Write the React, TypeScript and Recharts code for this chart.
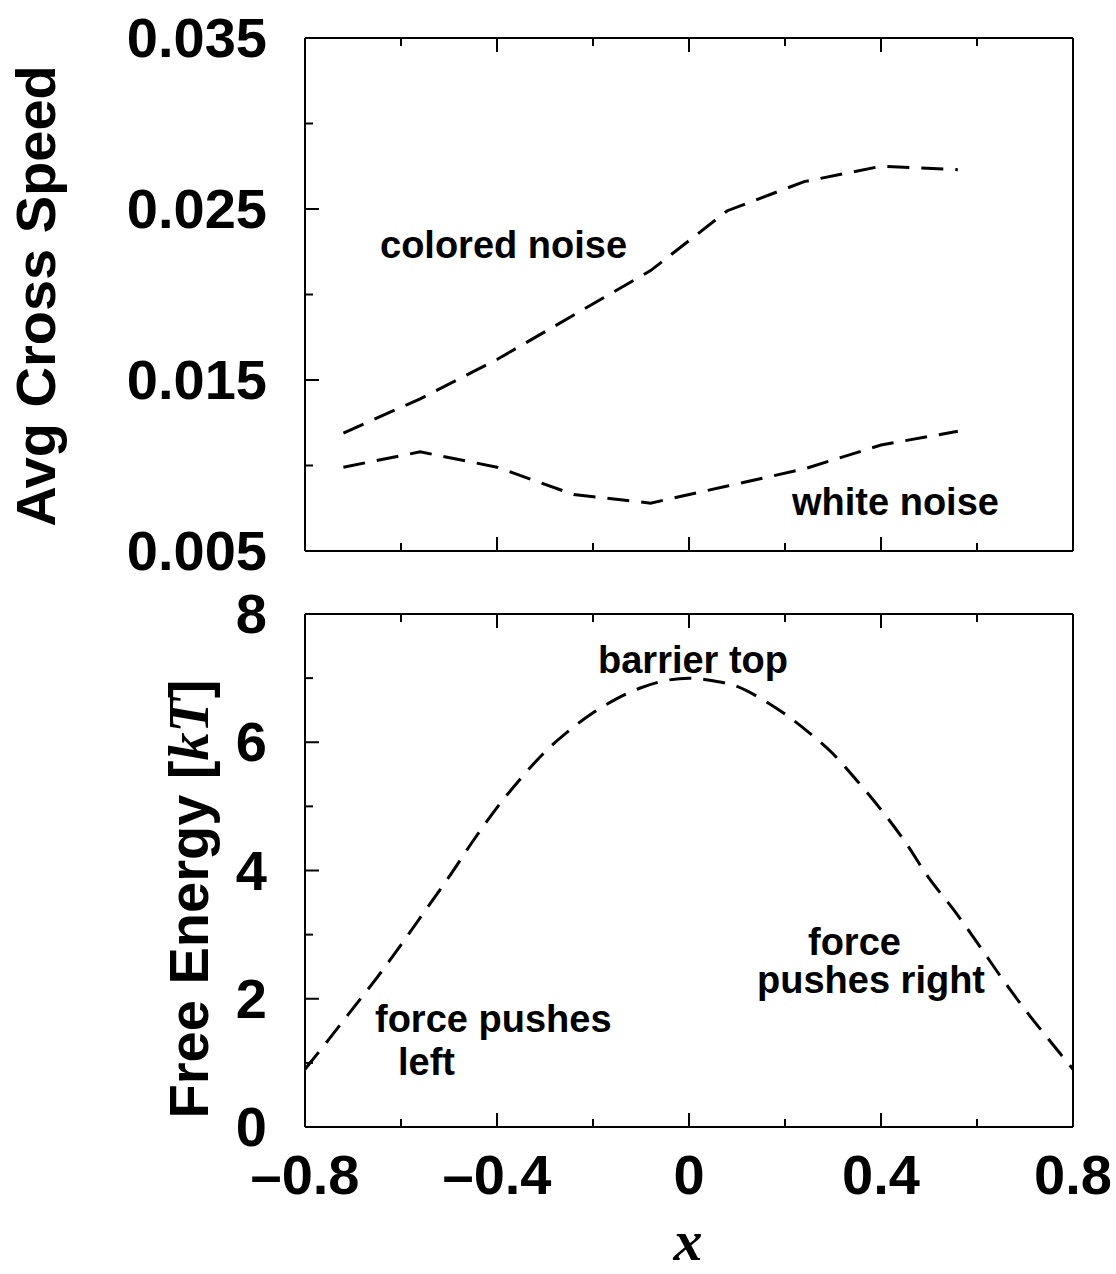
import React from 'react';
import { LineChart, Line, XAxis, YAxis } from 'recharts';

// x axis (shared by both panels)
const xTicks = [-0.8, -0.6, -0.4, -0.2, 0, 0.2, 0.4, 0.6, 0.8];
const xMajor = [-0.8, -0.4, 0, 0.4, 0.8];

// top panel: average crossing speed
const speedTicks = [0.005, 0.01, 0.015, 0.02, 0.025, 0.03, 0.035];
const speedMajor = [0.005, 0.015, 0.025, 0.035];
const speedX = [-0.72, -0.56, -0.4, -0.24, -0.08, 0.08, 0.24, 0.4, 0.56];
const coloredNoise = [0.0119, 0.0139, 0.0162, 0.0188, 0.0214, 0.0249, 0.0266, 0.0275, 0.0273];
const whiteNoise = [0.0099, 0.0108, 0.0099, 0.0083, 0.0078, 0.0088, 0.0098, 0.0112, 0.012];

// bottom panel: free energy profile
const energyTicks = [0, 1, 2, 3, 4, 5, 6, 7, 8];
const energyMajor = [0, 2, 4, 6, 8];
const energyX = [
  -0.8, -0.75, -0.7, -0.65, -0.6, -0.55, -0.5, -0.45, -0.4, -0.35, -0.3, -0.25, -0.2, -0.15, -0.1, -0.05,
  0, 0.05, 0.1, 0.15, 0.2, 0.25, 0.3, 0.35, 0.4, 0.45, 0.5, 0.55, 0.6, 0.65, 0.7, 0.75, 0.8,
];
const freeEnergy = [
  0.9, 1.37, 1.85, 2.33, 2.84, 3.37, 3.9, 4.46, 4.98, 5.44, 5.85, 6.18, 6.46, 6.68, 6.85, 6.96,
  7.0, 6.96, 6.87, 6.68, 6.44, 6.15, 5.82, 5.4, 4.95, 4.45, 3.88, 3.4, 2.88, 2.34, 1.83, 1.36, 0.9,
];

const speedRows = speedX.map((x, i) => ({ x, colored: coloredNoise[i], white: whiteNoise[i] }));
const energyRows = energyX.map((x, i) => ({ x, energy: freeEnergy[i] }));

const SANS = '"Liberation Sans", Arial, Helvetica, sans-serif';
const SERIF = '"Liberation Serif", "Times New Roman", serif';
const MAJOR = 14;
const MINOR = 8;
const axisLine = { stroke: '#000', strokeWidth: 2 };

const fmtX = (v: number) => (v === 0 ? '0' : v < 0 ? '\u2013' + String(-v) : String(v));
const fmtY = (v: number) => String(v);

const BottomTick = (props: any) => {
  const { x, y, payload, labels } = props;
  const major = xMajor.includes(payload.value);
  return (
    <g>
      <line x1={x} x2={x} y1={y} y2={y - (major ? MAJOR : MINOR)} stroke="#000" strokeWidth={2} />
      {labels && major && (
        <text x={x} y={y + 67} textAnchor="middle" fontFamily={SANS} fontWeight="bold" fontSize={56} fill="#000">
          {fmtX(payload.value)}
        </text>
      )}
    </g>
  );
};

const TopTick = (props: any) => {
  const { x, y, payload } = props;
  const major = xMajor.includes(payload.value);
  return <line x1={x} x2={x} y1={y} y2={y + (major ? MAJOR : MINOR)} stroke="#000" strokeWidth={2} />;
};

const LeftTick = (props: any) => {
  const { x, y, payload, majors } = props;
  const major = majors.includes(payload.value);
  return (
    <g>
      <line x1={x} x2={x + (major ? MAJOR : MINOR)} y1={y} y2={y} stroke="#000" strokeWidth={2} />
      {major && (
        <text x={x - 38} y={y + 19} textAnchor="end" fontFamily={SANS} fontWeight="bold" fontSize={56} fill="#000">
          {fmtY(payload.value)}
        </text>
      )}
    </g>
  );
};

const RightTick = (props: any) => {
  const { x, y, payload, majors } = props;
  const major = majors.includes(payload.value);
  return <line x1={x} x2={x - (major ? MAJOR : MINOR)} y1={y} y2={y} stroke="#000" strokeWidth={2} />;
};

const lineStyle = {
  stroke: '#000',
  strokeWidth: 3,
  strokeDasharray: '22 12',
  dot: false,
  isAnimationActive: false,
};

const Note = ({ x, y, children }: { x: number; y: number; children: React.ReactNode }) => (
  <text x={x} y={y} fontFamily={SANS} fontWeight="bold" fontSize={38} fill="#000">
    {children}
  </text>
);

const xAxes = (labels: boolean, bottomHeight: number) => [
  <XAxis
    key="b"
    dataKey="x"
    type="number"
    domain={[-0.8, 0.8]}
    ticks={xTicks}
    interval={0}
    height={bottomHeight}
    tickSize={0}
    tickMargin={0}
    tickLine={false}
    axisLine={axisLine}
    tick={(p: any) => <BottomTick {...p} labels={labels} />}
  />,
  <XAxis
    key="t"
    xAxisId="top"
    orientation="top"
    dataKey="x"
    type="number"
    domain={[-0.8, 0.8]}
    ticks={xTicks}
    interval={0}
    height={1}
    tickSize={0}
    tickMargin={0}
    tickLine={false}
    axisLine={axisLine}
    tick={(p: any) => <TopTick {...p} />}
  />,
];

const yAxes = (domain: number[], ticks: number[], majors: number[]) => [
  <YAxis
    key="l"
    type="number"
    domain={domain}
    ticks={ticks}
    interval={0}
    width={305}
    tickSize={0}
    tickMargin={0}
    tickLine={false}
    axisLine={axisLine}
    tick={(p: any) => <LeftTick {...p} majors={majors} />}
  />,
  <YAxis
    key="r"
    yAxisId="right"
    orientation="right"
    type="number"
    domain={domain}
    ticks={ticks}
    interval={0}
    width={1}
    tickSize={0}
    tickMargin={0}
    tickLine={false}
    axisLine={axisLine}
    tick={(p: any) => <RightTick {...p} majors={majors} />}
  />,
];

export default function App() {
  return (
    <div style={{ position: 'absolute', left: 0, top: 0, width: 1116, height: 1274, background: '#fff' }}>
      <div style={{ position: 'absolute', left: 0, top: 0 }}>
        <LineChart width={1116} height={600} data={speedRows} margin={{ top: 37, right: 42, bottom: 0, left: 0 }}>
          {xAxes(false, 49)}
          {yAxes([0.005, 0.035], speedTicks, speedMajor)}
          <Line type="linear" dataKey="colored" {...lineStyle} />
          <Line type="linear" dataKey="white" {...lineStyle} />
        </LineChart>
      </div>
      <div style={{ position: 'absolute', left: 0, top: 560 }}>
        <LineChart width={1116} height={714} data={energyRows} margin={{ top: 53, right: 42, bottom: 0, left: 0 }}>
          {xAxes(true, 147)}
          {yAxes([0, 8], energyTicks, energyMajor)}
          <Line type="monotone" dataKey="energy" {...lineStyle} />
        </LineChart>
      </div>
      <svg
        width={1116}
        height={1274}
        style={{ position: 'absolute', left: 0, top: 0, pointerEvents: 'none' }}
      >
        <text
          transform="translate(55 296) rotate(-90)"
          textAnchor="middle"
          fontFamily={SANS}
          fontWeight="bold"
          fontSize={56}
          fill="#000"
        >
          Avg Cross Speed
        </text>
        <text
          transform="translate(208 899) rotate(-90)"
          textAnchor="middle"
          fontFamily={SANS}
          fontWeight="bold"
          fontSize={56}
          fill="#000"
        >
          Free Energy [
          <tspan fontFamily={SERIF} fontStyle="italic">
            kT
          </tspan>
          ]
        </text>
        <text
          x={688}
          y={1260}
          textAnchor="middle"
          fontFamily={SERIF}
          fontStyle="italic"
          fontWeight="bold"
          fontSize={58}
          fill="#000"
        >
          x
        </text>
        <Note x={380} y={258}>colored noise</Note>
        <Note x={792} y={515}>white noise</Note>
        <Note x={598} y={673}>barrier top</Note>
        <Note x={375} y={1032}>force pushes</Note>
        <Note x={398} y={1075}>left</Note>
        <Note x={808} y={955}>force</Note>
        <Note x={757} y={993}>pushes right</Note>
      </svg>
    </div>
  );
}
